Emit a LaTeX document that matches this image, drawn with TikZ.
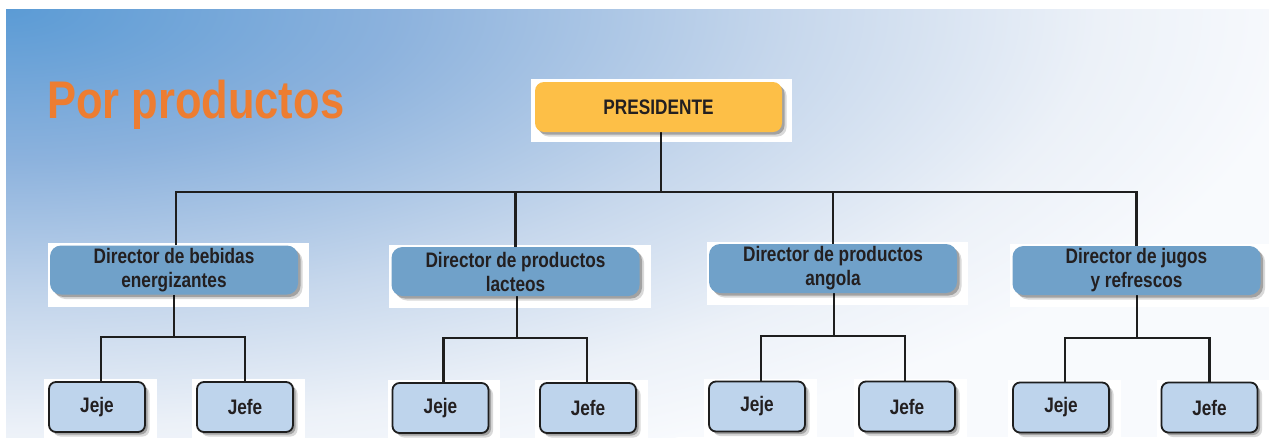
\documentclass[tikz,border=0pt]{standalone}
\usepackage{fontspec}
\setmainfont{Liberation Sans}
\newfontfamily\cf{Liberation Sans}[FakeStretch=0.82]
\usetikzlibrary{shadows}
\definecolor{bga}{RGB}{91,155,213}
\definecolor{bgb}{RGB}{140,178,221}
\definecolor{bgc}{RGB}{198,215,236}
\definecolor{bgd}{RGB}{236,241,248}
\definecolor{bge}{RGB}{248,250,253}
\definecolor{titlec}{RGB}{237,125,49}
\definecolor{txtc}{RGB}{35,31,32}
\definecolor{presc}{RGB}{253,191,71}
\definecolor{dirc}{RGB}{112,161,201}
\definecolor{subc}{RGB}{190,212,236}
\definecolor{linec}{RGB}{30,30,30}
\pgfdeclareradialshading{bgshade}{\pgfpoint{0bp}{0bp}}{color(0bp)=(bga); color(7.5bp)=(bgb); color(15bp)=(bgc); color(21bp)=(bgd); color(25bp)=(bge); color(50bp)=(bge)}
\pgfdeclarelayer{bg}
\pgfsetlayers{bg,main}
\tikzset{
  boxtxt/.style={font=\cf\bfseries\fontsize{21}{24}\selectfont, text=txtc, align=center, inner sep=0pt},
  boxshadow/.style={drop shadow={shadow xshift=4.5pt, shadow yshift=-4.5pt, fill=black, opacity=0.15},
                    drop shadow={shadow xshift=2.5pt, shadow yshift=-2.5pt, fill=black, opacity=0.25}},
  presbox/.style={boxtxt, boxshadow, fill=presc, rounded corners=9pt, minimum width=247pt, minimum height=50pt},
  dirbox/.style={boxtxt, boxshadow, fill=dirc, rounded corners=11pt, minimum width=248pt, minimum height=49pt},
  subbox/.style={boxtxt, boxshadow, fill=subc, draw=linec, line width=1.8pt, rounded corners=7pt, minimum width=96pt, minimum height=50pt},
  conn/.style={draw=linec, line width=2.3pt}
}
\begin{document}
\begin{tikzpicture}[x=1pt,y=-1pt]
\useasboundingbox (0,0) rectangle (1269,437);

% title
\node[anchor=base west, inner sep=0pt, text=titlec, font=\cf\bfseries\fontsize{53}{60}\selectfont] (title) at (47,118) {Por productos};

% boxes
\node[presbox] (pres) at (658.5,107) {PRESIDENTE};

\node[dirbox] (d1) at (174,270) {Director de bebidas\\energizantes};
\node[dirbox] (d2) at (515.5,271.5) {Director de productos\\lacteos};
\node[dirbox] (d3) at (833,268.5) {Director de productos\\angola};
\node[dirbox] (d4) at (1136.5,270.5) {Director de jugos\\y refrescos};

\node[subbox] (j1a) at (97,407) {Jeje};
\node[subbox] (j1b) at (245,407) {Jefe};
\node[subbox] (j2a) at (440.5,408) {Jeje};
\node[subbox] (j2b) at (588,408) {Jefe};
\node[subbox] (j3a) at (757,406.5) {Jeje};
\node[subbox] (j3b) at (907,406.5) {Jefe};
\node[subbox] (j4a) at (1061,407.5) {Jeje};
\node[subbox] (j4b) at (1209.5,407.5) {Jefe};

\coordinate (bus) at (661,192);
\coordinate (b1) at (174,337);
\coordinate (b2) at (517,338);
\coordinate (b3) at (834,336);
\coordinate (b4) at (1137,338);

\begin{pgfonlayer}{bg}
  \fill[white] (0,0) rectangle (1269,437);
  \begin{scope}
    \clip (6,9) rectangle (1269,437);
    \fill[bge] (6,9) rectangle (1269,437);
    \shade[shading=bgshade] (6,9) ellipse [x radius=1300, y radius=500];
  \end{scope}
  % white backdrops of the pasted boxes
  \fill[white] ([shift={(-4,-3)}]pres.north west) rectangle ([shift={(10,10)}]pres.south east);
  \foreach \n in {d1,d2,d3,d4}
    \fill[white] ([shift={(-2,-2)}]\n.north west) rectangle ([shift={(11,12)}]\n.south east);
  \foreach \n in {j1a,j1b,j2a,j2b,j3a,j3b,j4a,j4b}
    \fill[white] ([shift={(-4,-2)}]\n.north west) rectangle ([shift={(11,8)}]\n.south east);
  % connectors
  \draw[conn] ([xshift=2.5pt]pres.south) -- (bus);
  \draw[conn] ([xshift=2pt]d1.north) |- (bus) -| (d4.north);
  \draw[conn] (d2.north) -- (d2.north |- bus);
  \draw[conn] (d3.north) -- (d3.north |- bus);
  \draw[conn] (d1.south) -- (d1.south |- b1);
  \draw[conn] ([xshift=4pt]j1a.north) |- (b1) -| (j1b.north);
  \draw[conn] ([xshift=1.5pt]d2.south) -- ([xshift=1.5pt]d2.south |- b2);
  \draw[conn] ([xshift=3pt]j2a.north) |- (b2) -| ([xshift=-1pt]j2b.north);
  \draw[conn] ([xshift=1pt]d3.south) -- ([xshift=1pt]d3.south |- b3);
  \draw[conn] ([xshift=4pt]j3a.north) |- (b3) -| ([xshift=-2pt]j3b.north);
  \draw[conn] ([xshift=0.5pt]d4.south) -- ([xshift=0.5pt]d4.south |- b4);
  \draw[conn] ([xshift=4pt]j4a.north) |- (b4) -| (j4b.north);
\end{pgfonlayer}
\end{tikzpicture}
\end{document}
